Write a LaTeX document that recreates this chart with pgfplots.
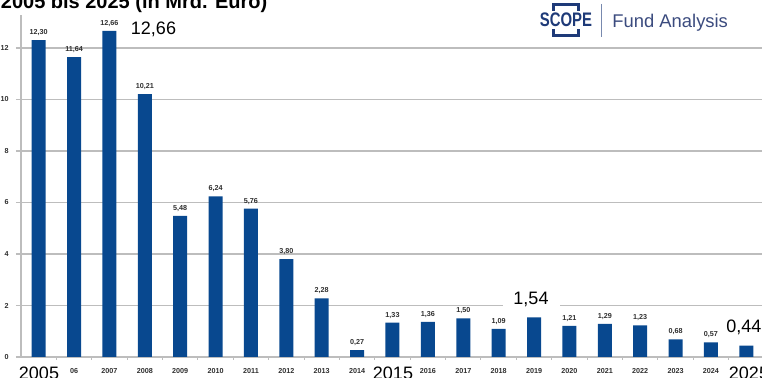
\documentclass[border=0pt]{standalone}
\usepackage{fontspec}
\setmainfont{Liberation Sans}
\usepackage{pgfplots}
\pgfplotsset{compat=1.18}
\definecolor{barblue}{HTML}{08488F}
\definecolor{gridgray}{HTML}{BDBDBD}
\definecolor{navy}{HTML}{1E3A78}
\definecolor{fundnavy}{HTML}{3B4B7E}
\definecolor{lblgray}{HTML}{2E2E2E}
\newcommand{\tinyfont}{\fontsize{3.6pt}{4.3pt}\selectfont\bfseries}
\newcommand{\bigfont}{\fontsize{9pt}{10.8pt}\selectfont}
\begin{document}
\begin{tikzpicture}
\begin{axis}[
  at={(10.5pt,-178.5pt)}, anchor=south west,
  scale only axis, width=371.5pt, height=171pt,
  xmin=-0.5, xmax=20.5, ymin=0, ymax=13.28,
  clip=false,
  axis x line*=bottom, axis y line*=left,
  axis line style={gridgray, line width=0.65pt},
  ytick={0,2,4,6,8,10,12},
  ymajorgrids, grid style={gridgray, line width=0.65pt},
  xtick={1,2,3,4,5,6,7,8,9,11,12,13,14,15,16,17,18,19},
  xticklabels={06,2007,2008,2009,2010,2011,2012,2013,2014,2016,2017,2018,2019,2020,2021,2022,2023,2024},
  minor xtick={0.5,1.5,2.5,3.5,4.5,5.5,6.5,7.5,8.5,9.5,10.5,11.5,12.5,13.5,14.5,15.5,16.5,17.5,18.5,19.5},
  tick align=outside,
  major tick length=2.5pt,
  minor tick length=1.5pt,
  major x tick style={draw=none},
  minor x tick style={gridgray, line width=0.5pt},
  major y tick style={gridgray, line width=0.65pt},
  xticklabel style={font=\tinyfont, text=lblgray, inner sep=0pt, yshift=-3.2pt},
  yticklabel style={font=\tinyfont, text=lblgray, inner sep=0pt, xshift=-3.5pt},
  /pgf/number format/assume math mode=true,
]
\addplot[ybar, bar width=7pt, fill=barblue, draw=none] coordinates {
  (0,12.30) (1,11.64) (2,12.66) (3,10.21) (4,5.48) (5,6.24) (6,5.76)
  (7,3.80) (8,2.28) (9,0.27) (10,1.33) (11,1.36) (12,1.50) (13,1.09)
  (14,1.54) (15,1.21) (16,1.29) (17,1.23) (18,0.68) (19,0.57) (20,0.44)
};
\addplot[draw=none, mark=none, forget plot, point meta=y,
  nodes near coords={\pgfmathprintnumber[fixed,fixed zerofill,precision=2,use comma,assume math mode=true]{\pgfplotspointmeta}},
  nodes near coords style={font=\tinyfont, text=lblgray, anchor=south, inner sep=0pt, yshift=2pt}]
  coordinates {
  (0,12.30) (1,11.64) (2,12.66) (3,10.21) (4,5.48) (5,6.24) (6,5.76)
  (7,3.80) (8,2.28) (9,0.27) (10,1.33) (11,1.36) (12,1.50) (13,1.09)
  (15,1.21) (16,1.29) (17,1.23) (18,0.68) (19,0.57)
};
\end{axis}
\begin{scope}[x=0.5pt,y=-0.5pt]
  % title (partly cut off at the top, as in the reference)
  \node[anchor=base west, inner sep=0pt, font=\fontsize{10pt}{12pt}\selectfont\bfseries] at (0.5,8.5) {2005 bis 2025 (in Mrd. Euro)};
  % logo
  \draw[navy, line width=1.5pt] (553,11) -- (553,4.5) -- (578,4.5) -- (578,11);
  \draw[navy, line width=1.5pt] (553,29) -- (553,35.5) -- (578,35.5) -- (578,29);
  \node[anchor=base, inner sep=0pt, text=navy, font=\fontsize{9.8pt}{11pt}\selectfont\bfseries] at (566,27) {\scalebox{0.76}[1]{SCOPE}};
  \draw[navy!60, line width=0.5pt] (601,4) -- (601,37);
  \node[anchor=base west, inner sep=0pt, text=fundnavy, font=\fontsize{9.2pt}{11pt}\selectfont] at (612,27.5) {Fund Analysis};
  % large annotations
  \node[anchor=base, inner sep=0pt, font=\bigfont] at (153.5,34.5) {12,66};
  \node[anchor=base, fill=white, inner xsep=0pt, inner ysep=2pt, minimum width=28.5pt, font=\bigfont] at (531,304.5) {1,54};
  \node[anchor=base west, inner sep=0pt, font=\bigfont] at (726,332.5) {0,44};
  \node[anchor=base, inner sep=0pt, font=\bigfont] at (39,379.5) {2005};
  \node[anchor=base, inner sep=0pt, font=\bigfont] at (393,379.5) {2015};
  \node[anchor=base, inner sep=0pt, font=\bigfont] at (749,379.5) {2025};
\end{scope}
\pgfresetboundingbox
\path[use as bounding box] (0pt,0pt) rectangle (381pt,-189pt);
\end{tikzpicture}
\end{document}
